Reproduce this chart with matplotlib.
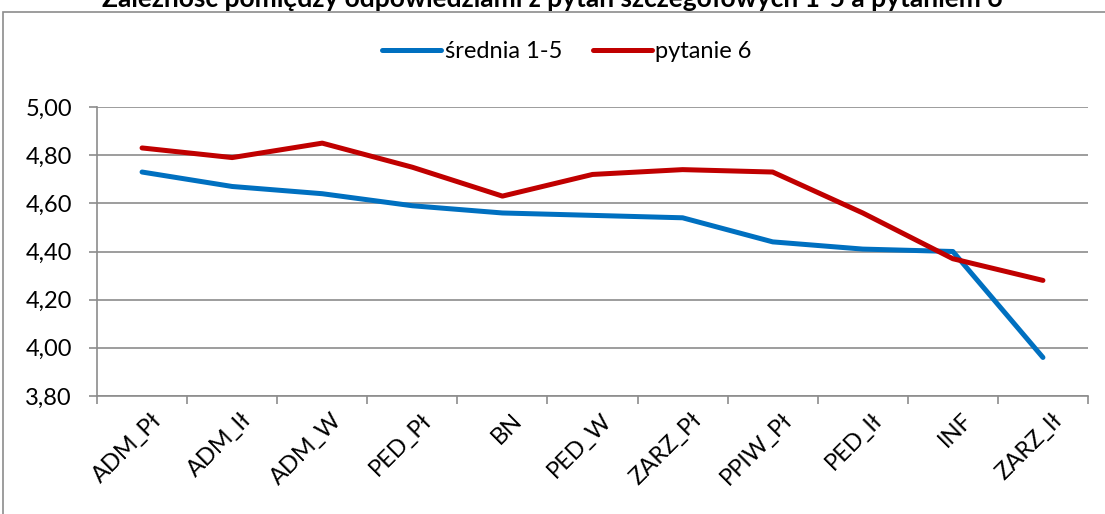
import matplotlib
matplotlib.use("Agg")
import matplotlib.pyplot as plt
import matplotlib.transforms as mtransforms
from matplotlib.patches import Rectangle
import numpy as np

plt.rcParams['font.family'] = ['Lato', 'DejaVu Sans']

categories = ["ADM_Pł", "ADM_Ił", "ADM_W", "PED_Pł", "BN", "PED_W",
              "ZARZ_Pł", "PPIW_Pł", "PED_Ił", "INF", "ZARZ_Ił"]
srednia = [4.73, 4.67, 4.64, 4.59, 4.56, 4.55, 4.54, 4.44, 4.41, 4.40, 3.96]
pytanie6 = [4.83, 4.79, 4.85, 4.75, 4.63, 4.72, 4.74, 4.73, 4.56, 4.37, 4.28]

title = "Zależność pomiędzy odpowiedziami z pytań szczegółowych 1-5 a pytaniem 6"

fig = plt.figure(figsize=(11.05, 5.14), dpi=100)
ax = fig.add_axes([0.0878, 0.2296, 0.8968, 0.5622])

# chart border
fig.patches.append(Rectangle((3 / 1105, -0.1), 1.2, 1 - 12 / 514 + 0.1,
                             transform=fig.transFigure, fill=False,
                             edgecolor="#8c8c8c", linewidth=1.2))

x = np.arange(len(categories))
ax.plot(x, srednia, color="#0070c0", linewidth=3.6, label="średnia 1-5",
        solid_capstyle="round", solid_joinstyle="round")
ax.plot(x, pytanie6, color="#c00000", linewidth=3.6, label="pytanie 6",
        solid_capstyle="round", solid_joinstyle="round")

ax.set_xlim(-0.5, len(categories) - 0.5)
ax.set_ylim(3.8, 5.0)
yt = np.arange(3.8, 5.01, 0.2)
ax.set_yticks(yt)
ax.set_yticklabels([f"{v:.2f}".replace(".", ",") for v in yt])
ax.yaxis.grid(True, color="#8c8c8c", linewidth=1.2)
ax.set_axisbelow(True)

# category labels between boundary ticks
ax.set_xticks(np.arange(-0.5, len(categories)))
ax.set_xticklabels([])
lab_tr = ax.get_xaxis_transform() + mtransforms.ScaledTranslation(
    0.16, -0.21, fig.dpi_scale_trans)
for i, c in enumerate(categories):
    ax.text(x[i], 0, c, transform=lab_tr, rotation=45, ha="right",
            va="center", rotation_mode="anchor", fontsize=17)

ax.tick_params(axis="x", length=6, color="#8c8c8c", width=1.2)
ax.tick_params(axis="y", length=6, color="#8c8c8c", width=1.2,
               labelsize=17, pad=12)

for s in ["top", "right"]:
    ax.spines[s].set_visible(False)
for s in ["left", "bottom"]:
    ax.spines[s].set_color("#8c8c8c")
    ax.spines[s].set_linewidth(1.2)

ax.legend(loc="center", bbox_to_anchor=(567 / 1105, 1 - 52 / 514),
          bbox_transform=fig.transFigure, ncol=2, frameon=False,
          fontsize=17, handlelength=2.5, handletextpad=0.15, columnspacing=1.3)

fig.text(0.5, 1 - 7 / 514, title, ha="center", va="baseline",
         fontsize=19, fontweight="bold")

fig.savefig("out.png", dpi=100)
